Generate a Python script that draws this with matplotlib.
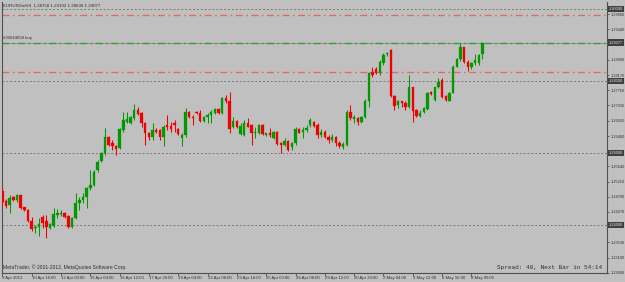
import numpy as np
import matplotlib
matplotlib.use("Agg")
import matplotlib.pyplot as plt
import matplotlib.transforms as mtransforms

# EURUSD H4 candles, 9 Apr 2013 .. 8 May 2013
opens = [
    1.2494, 1.2467, 1.2457, 1.2478, 1.2470, 1.2483, 1.2450, 1.2443, 1.2413, 1.2392,
    1.2394, 1.2424, 1.2413, 1.2392, 1.2398, 1.2430, 1.2431, 1.2435, 1.2426, 1.2394,
    1.2420, 1.2461, 1.2470, 1.2480, 1.2503, 1.2512, 1.2554, 1.2580, 1.2600, 1.2646,
    1.2628, 1.2619, 1.2614, 1.2665, 1.2688, 1.2683, 1.2697, 1.2720, 1.2711, 1.2685,
    1.2657, 1.2646, 1.2665, 1.2665, 1.2646, 1.2679, 1.2676, 1.2683, 1.2667, 1.2642,
    1.2651, 1.2716, 1.2702, 1.2716, 1.2713, 1.2691, 1.2702, 1.2707, 1.2711, 1.2722,
    1.2711, 1.2753, 1.2744, 1.2672, 1.2691, 1.2654, 1.2651, 1.2683, 1.2679, 1.2656,
    1.2656, 1.2679, 1.2651, 1.2656, 1.2642, 1.2660, 1.2628, 1.2623, 1.2635, 1.2617,
    1.2628, 1.2667, 1.2660, 1.2665, 1.2679, 1.2688, 1.2679, 1.2651, 1.2660, 1.2646,
    1.2637, 1.2646, 1.2628, 1.2617, 1.2623, 1.2716, 1.2694, 1.2697, 1.2688, 1.2700,
    1.2746, 1.2827, 1.2833, 1.2822, 1.2850, 1.2875, 1.2887, 1.2759, 1.2734, 1.2744,
    1.2741, 1.2728, 1.2783, 1.2720, 1.2704, 1.2716, 1.2722, 1.2771, 1.2748, 1.2783,
    1.2805, 1.2759, 1.2746, 1.2768, 1.2841, 1.2861, 1.2894, 1.2855, 1.2841, 1.2850,
    1.2850, 1.28758]
highs = [
    1.2507, 1.2472, 1.2484, 1.2481, 1.2486, 1.2485, 1.2452, 1.2444, 1.2424, 1.2401,
    1.2420, 1.2429, 1.2429, 1.2406, 1.2447, 1.2444, 1.2443, 1.2438, 1.2429, 1.2424,
    1.2489, 1.2480, 1.2489, 1.2507, 1.2554, 1.2554, 1.2582, 1.2605, 1.2670, 1.2648,
    1.2637, 1.2623, 1.2670, 1.2716, 1.2716, 1.2704, 1.2737, 1.2730, 1.2716, 1.2688,
    1.2660, 1.2683, 1.2670, 1.2667, 1.2679, 1.2707, 1.2688, 1.2693, 1.2670, 1.2656,
    1.2725, 1.2718, 1.2707, 1.2718, 1.2720, 1.2704, 1.2711, 1.2720, 1.2725, 1.2725,
    1.2757, 1.2762, 1.2771, 1.2702, 1.2693, 1.2683, 1.2693, 1.2697, 1.2681, 1.2674,
    1.2681, 1.2681, 1.2657, 1.2670, 1.2663, 1.2663, 1.2632, 1.2642, 1.2637, 1.2632,
    1.2674, 1.2670, 1.2674, 1.2679, 1.2697, 1.2691, 1.2683, 1.2667, 1.2665, 1.2651,
    1.2654, 1.2648, 1.2635, 1.2632, 1.2720, 1.2734, 1.2707, 1.2702, 1.2704, 1.2750,
    1.2827, 1.2841, 1.2839, 1.2859, 1.2878, 1.2882, 1.2889, 1.2762, 1.2748, 1.2746,
    1.2744, 1.2818, 1.2785, 1.2722, 1.2720, 1.2730, 1.2771, 1.2774, 1.2785, 1.2808,
    1.2808, 1.2762, 1.2771, 1.2845, 1.2864, 1.2907, 1.2896, 1.2859, 1.2855, 1.2876,
    1.2876, 1.29102]
lows = [
    1.2452, 1.2447, 1.2433, 1.2467, 1.2466, 1.2444, 1.2440, 1.2410, 1.2383, 1.2380,
    1.2369, 1.2392, 1.2364, 1.2389, 1.2396, 1.2420, 1.2426, 1.2420, 1.2392, 1.2392,
    1.2417, 1.2443, 1.2461, 1.2447, 1.2498, 1.2509, 1.2549, 1.2577, 1.2595, 1.2620,
    1.2609, 1.2595, 1.2611, 1.2660, 1.2683, 1.2681, 1.2693, 1.2707, 1.2674, 1.2623,
    1.2637, 1.2637, 1.2656, 1.2637, 1.2619, 1.2665, 1.2660, 1.2660, 1.2651, 1.2619,
    1.2646, 1.2697, 1.2679, 1.2709, 1.2688, 1.2688, 1.2683, 1.2683, 1.2709, 1.2709,
    1.2709, 1.2739, 1.2657, 1.2670, 1.2670, 1.2651, 1.2648, 1.2672, 1.2623, 1.2642,
    1.2654, 1.2651, 1.2648, 1.2646, 1.2639, 1.2623, 1.2600, 1.2619, 1.2607, 1.2609,
    1.2623, 1.2656, 1.2642, 1.2660, 1.2674, 1.2674, 1.2642, 1.2646, 1.2642, 1.2628,
    1.2632, 1.2620, 1.2614, 1.2611, 1.2620, 1.2693, 1.2685, 1.2679, 1.2685, 1.2697,
    1.2730, 1.2813, 1.2820, 1.2818, 1.2845, 1.2869, 1.2757, 1.2720, 1.2725, 1.2730,
    1.2720, 1.2725, 1.2688, 1.2700, 1.2700, 1.2713, 1.2720, 1.2762, 1.2746, 1.2781,
    1.2753, 1.2744, 1.2744, 1.2767, 1.2839, 1.2857, 1.2850, 1.2830, 1.2833, 1.2845,
    1.2845, 1.28630]
closes = [
    1.2466, 1.2454, 1.2475, 1.2470, 1.2483, 1.2447, 1.2443, 1.2413, 1.2389, 1.2396,
    1.2404, 1.2406, 1.2394, 1.2403, 1.2431, 1.2433, 1.2435, 1.2422, 1.2394, 1.2420,
    1.2461, 1.2470, 1.2480, 1.2503, 1.2512, 1.2549, 1.2577, 1.2600, 1.2646, 1.2623,
    1.2619, 1.2611, 1.2667, 1.2693, 1.2694, 1.2700, 1.2720, 1.2709, 1.2683, 1.2657,
    1.2646, 1.2665, 1.2660, 1.2646, 1.2674, 1.2674, 1.2667, 1.2680, 1.2654, 1.2651,
    1.2716, 1.2700, 1.2697, 1.2711, 1.2691, 1.2702, 1.2707, 1.2716, 1.2722, 1.2711,
    1.2753, 1.2744, 1.2667, 1.2691, 1.2672, 1.2676, 1.2683, 1.2674, 1.2656, 1.2660,
    1.2679, 1.2654, 1.2656, 1.2651, 1.2660, 1.2626, 1.2623, 1.2635, 1.2609, 1.2628,
    1.2667, 1.2657, 1.2665, 1.2670, 1.2693, 1.2676, 1.2651, 1.2660, 1.2646, 1.2637,
    1.2646, 1.2628, 1.2619, 1.2626, 1.2716, 1.2697, 1.2700, 1.2688, 1.2702, 1.2746,
    1.2822, 1.2818, 1.2824, 1.2855, 1.2873, 1.2878, 1.2759, 1.2731, 1.2746, 1.2741,
    1.2728, 1.2783, 1.2718, 1.2704, 1.2711, 1.2725, 1.2768, 1.2765, 1.2783, 1.2799,
    1.2757, 1.2748, 1.2768, 1.2841, 1.2861, 1.2894, 1.2855, 1.2841, 1.2850, 1.2859,
    1.2873, 1.29077]

time_labels = ["9 Apr 2013", "10 Apr 16:00", "12 Apr 00:00", "15 Apr 04:00", "16 Apr 12:00",
               "17 Apr 20:00", "19 Apr 04:00", "22 Apr 08:00", "23 Apr 16:00", "25 Apr 00:00",
               "26 Apr 08:00", "29 Apr 12:00", "30 Apr 20:00", "2 May 04:00", "3 May 12:00",
               "6 May 16:00", "8 May 00:00"]
time_label_bars = [0, 8, 16, 24, 32, 40, 48, 56, 64, 72, 80, 88, 96, 104, 112, 120, 128]

price_ticks = [1.29860, 1.29440, 1.28600, 1.28170, 1.27750, 1.27330, 1.26910, 1.26480,
               1.25640, 1.25210, 1.24790, 1.24370, 1.23530, 1.23100, 1.22680]
level_lines = [1.30000, 1.28000, 1.26000, 1.24000]   # gray dotted, boxed labels
stop_lines = [1.29840, 1.28260]                      # red dash-dot
order_price = 1.29077                                # green dash-dot ("#30044658 buy")

BG = "#c0c0c0"
UP = "#009a00"
DN = "#f00000"
TXT = "#303030"
plt.rcParams["font.family"] = ["Liberation Sans", "DejaVu Sans"]

W, H = 625, 282
fig = plt.figure(figsize=(W / 100, H / 100), dpi=100, facecolor=BG)
ax = fig.add_axes([2 / W, 9 / H, 605 / W, 271 / H], facecolor=BG)

o = np.array(opens); h = np.array(highs); l = np.array(lows); c = np.array(closes)
x = np.arange(len(o))
col = np.where(c >= o, UP, DN)

# horizontal lines first
for lv in level_lines:
    ax.axhline(lv, color="#7a7a7a", lw=0.7, dashes=(2, 2), zorder=1)
for sl in stop_lines:
    ax.axhline(sl, color="#e06a6a", lw=1.0, dashes=(5, 2.5, 1.2, 2.5), zorder=1)
ax.axhline(order_price, color="#8a8a8a", lw=0.6, zorder=1)
ax.axhline(order_price, color="#30a030", lw=1.0, dashes=(5, 2.5, 1.2, 2.5), zorder=1)

# candles
ax.vlines(x, l, h, colors=col, lw=0.75, zorder=3)
body_lo = np.minimum(o, c)
body_h = np.maximum(np.abs(c - o), 0.00004)
ax.bar(x, body_h, bottom=body_lo, width=0.66, color=col, edgecolor=col, lw=0.2, zorder=4)

ax.set_xlim(-0.1, 165.0)
ax.set_ylim(1.22675, 1.30203)

# frame
ax.spines["top"].set_visible(False)
for side in ["left", "bottom", "right"]:
    ax.spines[side].set_color("#505050")
    ax.spines[side].set_linewidth(0.8)

# price axis on the right
ax.yaxis.tick_right()
ax.set_yticks(price_ticks)
ax.set_yticklabels([f"{p:.5f}" for p in price_ticks])
ax.tick_params(axis="y", direction="out", length=1.5, width=0.6, color="#505050",
               labelsize=2.8, labelcolor=TXT, pad=0.8)

# time axis
ax.set_xticks(time_label_bars)
ax.set_xticklabels(time_labels, ha="left")
ax.tick_params(axis="x", direction="out", length=2.0, width=0.6, color="#505050",
               labelsize=3.1, labelcolor=TXT, pad=0.4)

# boxed price labels on the axis
trans = mtransforms.blended_transform_factory(ax.transAxes, ax.transData)
for lv in level_lines + [order_price]:
    ax.text(1.003, lv, f"{lv:.5f}", transform=trans, fontsize=2.8, color="#e8e8e8",
            va="center", ha="left", clip_on=False,
            bbox=dict(boxstyle="square,pad=0.3", fc="#404040", ec="none"))

# chart texts
fig.text(3 / W, 1 - 6 / H, "EURUSDmH4  1.28758 1.29102 1.28630 1.29077", fontsize=3.2,
         color=TXT, va="center", ha="left")
ax.text(0.002, order_price + 0.0006, "#30044658 buy", transform=trans, fontsize=3.1,
        color=TXT, va="bottom", ha="left")
fig.text(3 / W, 1 - 267 / H, "MetaTrader, \u00a9 2001-2012, MetaQuotes Software Corp.",
         fontsize=3.6, color=TXT, va="center", ha="left")
fig.text(602 / W, 1 - 267 / H, "Spread: 40, Next Bar in 54:14", fontsize=4.4,
         family=["Liberation Mono", "DejaVu Sans Mono"], color=TXT, va="center", ha="right")

fig.savefig("out.png", dpi=100, facecolor=BG)
